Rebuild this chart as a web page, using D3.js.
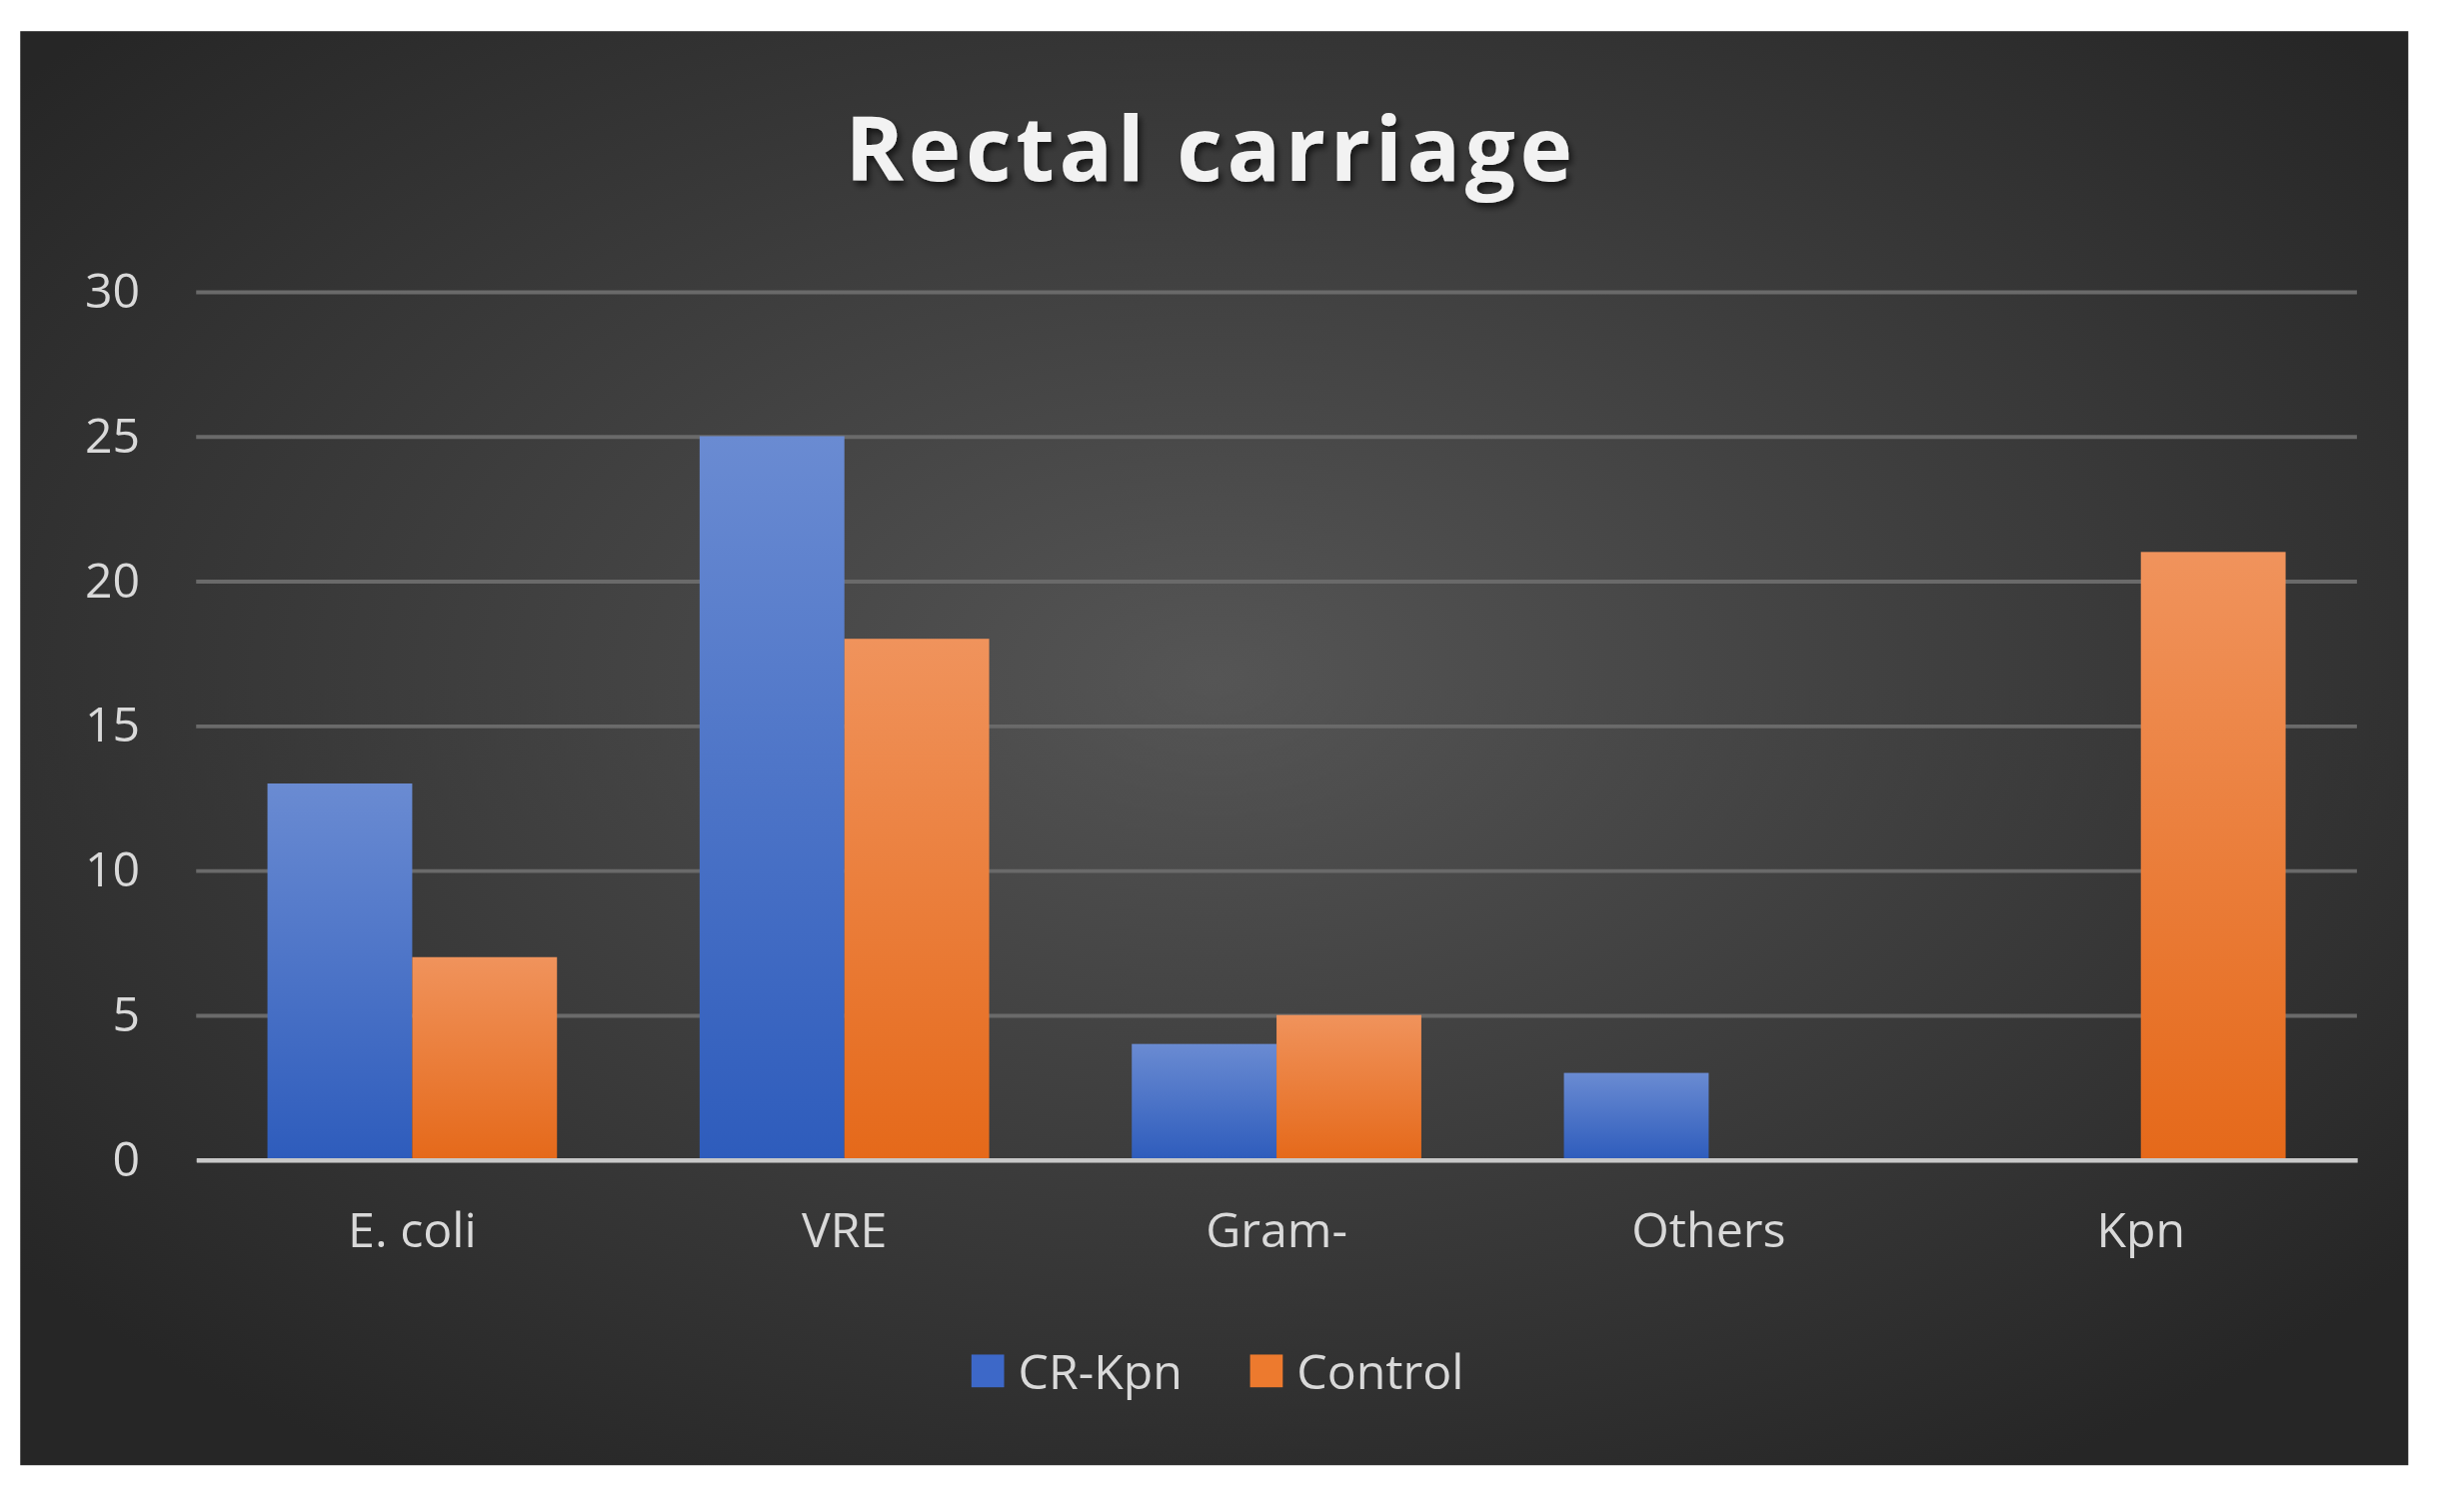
<!DOCTYPE html><html><head><meta charset="utf-8">
<script src="https://cdn.jsdelivr.net/npm/d3@7"></script>
<style>html,body{margin:0;padding:0;background:#fff;overflow:hidden}</style></head><body>
<script>
const categories=["E. coli","VRE","Gram-","Others","Kpn"];
const seriesNames=["CR-Kpn","Control"];
const crKpn=[13,25,4,3,0];
const control=[7,18,5,0,21];
const yTicks=[0,5,10,15,20,25,30];

const W=1568,H=970;
const svg=d3.select("body").append("svg").attr("width",2442).attr("height",1513)
 .attr("viewBox",`0 0 ${W} ${H}`).attr("preserveAspectRatio","none");
const defs=svg.append("defs");
const rg=defs.append("radialGradient").attr("id","bg").attr("cx","50%").attr("cy","45%").attr("r","65%");
rg.append("stop").attr("offset","0%").attr("stop-color","#555555");
rg.append("stop").attr("offset","100%").attr("stop-color","#262626");
function lg(id,a,b){const g=defs.append("linearGradient").attr("id",id).attr("x1",0).attr("y1",0).attr("x2",0).attr("y2",1);
 g.append("stop").attr("offset","0%").attr("stop-color",a);g.append("stop").attr("offset","100%").attr("stop-color",b);}
lg("gb","#6a8bd2","#2e5cbc");lg("go","#f0935c","#e5691a");
const sh=defs.append("filter").attr("id","sh");
sh.append("feDropShadow").attr("dx",2).attr("dy",3).attr("stdDeviation",2).attr("flood-color","#000").attr("flood-opacity",0.6);

svg.append("rect").attr("x",13).attr("y",20).attr("width",1534).attr("height",920).attr("fill","url(#bg)");
const font="'Open Sans','Noto Sans',sans-serif";
svg.append("text").attr("x",778).attr("y",116).attr("text-anchor","middle").attr("font-family",font)
 .attr("font-weight","bold").attr("font-size",57).attr("letter-spacing",3).attr("fill","#f2f2f2").attr("filter","url(#sh)").text("Rectal carriage");

const x0=d3.scaleBand().domain(categories).range([126,1514]).paddingInner(0.33).paddingOuter(0.165);
const x1=d3.scaleBand().domain(seriesNames).range([0,x0.bandwidth()]);
const y=d3.scaleLinear().domain([0,30]).range([744,187]);

const ya=svg.append("g").attr("transform","translate(126,0)").call(d3.axisLeft(y).tickValues(yTicks).tickSize(-1388).tickPadding(36));
ya.select(".domain").remove();
ya.selectAll("line").attr("stroke","#6a6a6a").attr("stroke-width",2.5);
ya.selectAll("text").attr("font-family",font).attr("font-size",31).attr("fill","#d9d9d9");

const data=categories.map((c,i)=>({c,v:[crKpn[i],control[i]]}));
const grads=["url(#gb)","url(#go)"];
svg.append("g").selectAll("g").data(data).join("g").attr("transform",d=>`translate(${x0(d.c)},0)`)
 .selectAll("rect").data(d=>d.v.map((v,j)=>({v,j}))).join("rect")
 .attr("x",d=>x1(seriesNames[d.j])).attr("width",x1.bandwidth())
 .attr("y",d=>y(d.v)).attr("height",d=>744-y(d.v)).attr("fill",d=>grads[d.j]);

const xa=svg.append("g").attr("transform","translate(0,744)").call(d3.axisBottom(x0).tickSize(0).tickPadding(34));
xa.select(".domain").attr("stroke","#c8c8c8").attr("stroke-width",3);
xa.selectAll("text").attr("font-family",font).attr("font-size",31).attr("fill","#d9d9d9");

const leg=[{n:"CR-Kpn",x:624,c:"#3d68c8"},{n:"Control",x:803,c:"#ed7a2e"}];
const lgG=svg.append("g");
lgG.selectAll("rect").data(leg).join("rect").attr("x",d=>d.x).attr("y",869).attr("width",21).attr("height",21).attr("fill",d=>d.c);
lgG.selectAll("text").data(leg).join("text").attr("x",d=>d.x+30).attr("y",891).attr("font-family",font)
 .attr("font-size",31).attr("fill","#d9d9d9").text(d=>d.n);
</script></body></html>
